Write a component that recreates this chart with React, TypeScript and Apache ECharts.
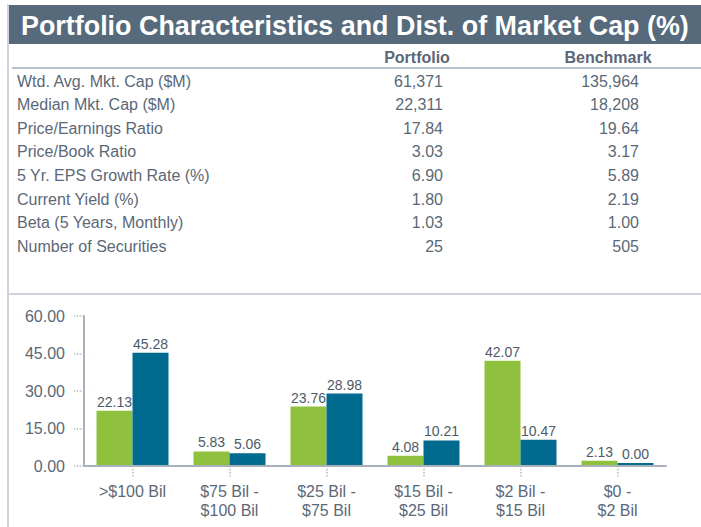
import React, { useEffect, useRef } from 'react';
import * as echarts from 'echarts';

const title = 'Portfolio Characteristics and Dist. of Market Cap (%)';
const columnHeaders = ['Portfolio', 'Benchmark'];
const statLabels = [
  'Wtd. Avg. Mkt. Cap ($M)',
  'Median Mkt. Cap ($M)',
  'Price/Earnings Ratio',
  'Price/Book Ratio',
  '5 Yr. EPS Growth Rate (%)',
  'Current Yield (%)',
  'Beta (5 Years, Monthly)',
  'Number of Securities',
];
const portfolioStats = ['61,371', '22,311', '17.84', '3.03', '6.90', '1.80', '1.03', '25'];
const benchmarkStats = ['135,964', '18,208', '19.64', '3.17', '5.89', '2.19', '1.00', '505'];

const categories = [
  '>$100 Bil',
  '$75 Bil -\n$100 Bil',
  '$25 Bil -\n$75 Bil',
  '$15 Bil -\n$25 Bil',
  '$2 Bil -\n$15 Bil',
  '$0 -\n$2 Bil',
];
const portfolioDist = [22.13, 5.83, 23.76, 4.08, 42.07, 2.13];
const benchmarkDist = [45.28, 5.06, 28.98, 10.21, 10.47, 0.0];
const yMin = 0;
const yMax = 60;
const yInterval = 15;

const FONT = '"Liberation Sans", Arial, sans-serif';
const TEXT = '#5b6877';
const GREEN = '#8fc13f';
const BLUE = '#006a8f';
const RULE = '#cfd4dc';

export default function App() {
  const ref = useRef<HTMLDivElement>(null);
  useEffect(() => {
    if (!ref.current) return;
    const chart = echarts.init(ref.current, undefined, { renderer: 'svg' });

    // measure title to compress it horizontally like a narrow font
    let titleScale = 0.8;
    try {
      const c = document.createElement('canvas').getContext('2d');
      if (c) {
        c.font = 'bold 28px "Liberation Sans"';
        const w = c.measureText(title).width;
        if (w > 0) titleScale = 668 / w;
      }
    } catch (e) {}

    const graphics: any[] = [
      { type: 'rect', shape: { x: 9, y: 5, width: 692, height: 39 }, style: { fill: '#566a7b' } },
      {
        type: 'text', x: 21, y: 25, scaleX: titleScale,
        style: { text: title, fill: '#ffffff', font: `bold 28px ${FONT}`, textVerticalAlign: 'middle', textAlign: 'left' },
      },
      { type: 'rect', shape: { x: 7, y: 4, width: 2, height: 523 }, style: { fill: RULE } },
      { type: 'rect', shape: { x: 12, y: 67, width: 689, height: 2 }, style: { fill: '#b9c1ca' } },
      { type: 'rect', shape: { x: 8, y: 293, width: 693, height: 2 }, style: { fill: RULE } },
      {
        type: 'text', x: 417, y: 57,
        style: { text: columnHeaders[0], fill: TEXT, font: `bold 16px ${FONT}`, textAlign: 'center', textVerticalAlign: 'middle' },
      },
      {
        type: 'text', x: 608, y: 57,
        style: { text: columnHeaders[1], fill: TEXT, font: `bold 16px ${FONT}`, textAlign: 'center', textVerticalAlign: 'middle' },
      },
    ];
    statLabels.forEach((lab, i) => {
      const y = 81 + i * 23.6;
      graphics.push({
        type: 'text', x: 17, y,
        style: { text: lab, fill: TEXT, font: `16px ${FONT}`, textAlign: 'left', textVerticalAlign: 'middle' },
      });
      graphics.push({
        type: 'text', x: 443, y,
        style: { text: portfolioStats[i], fill: TEXT, font: `16px ${FONT}`, textAlign: 'right', textVerticalAlign: 'middle' },
      });
      graphics.push({
        type: 'text', x: 639, y,
        style: { text: benchmarkStats[i], fill: TEXT, font: `16px ${FONT}`, textAlign: 'right', textVerticalAlign: 'middle' },
      });
    });

    const barLabel = {
      show: true,
      position: 'top',
      distance: 2,
      color: '#4d5a68',
      fontSize: 14,
      fontFamily: FONT,
      formatter: (p: any) => Number(p.value).toFixed(2),
    };

    chart.setOption({
      animation: false,
      backgroundColor: '#ffffff',
      graphic: graphics,
      grid: { left: 84, right: 35, top: 316, bottom: 61, containLabel: false },
      xAxis: {
        type: 'category',
        data: categories,
        z: 5,
        axisLine: { show: true, lineStyle: { color: '#a9b1bb', width: 2 } },
        axisTick: { show: true, alignWithLabel: true, length: 11, lineStyle: { color: '#b5bcc5', type: 'dotted', width: 1.5 } },
        axisLabel: { color: TEXT, fontSize: 16, fontFamily: FONT, margin: 16, lineHeight: 19, interval: 0 },
      },
      yAxis: {
        type: 'value',
        min: yMin,
        max: yMax,
        interval: yInterval,
        axisLine: { show: true, lineStyle: { color: '#a9b1bb', width: 2 } },
        axisTick: { show: true, length: 10, lineStyle: { color: '#b5bcc5', type: 'dotted', width: 1.5 } },
        splitLine: { show: false },
        axisLabel: { color: TEXT, fontSize: 16, fontFamily: FONT, margin: 19, formatter: (v: number) => v.toFixed(2) },
      },
      series: [
        {
          name: 'Portfolio', type: 'bar', data: portfolioDist, barWidth: 36, barGap: '0%',
          itemStyle: { color: GREEN }, label: barLabel,
        },
        {
          name: 'Benchmark', type: 'bar', data: benchmarkDist, barWidth: 36, barGap: '0%', barMinHeight: 3,
          itemStyle: { color: BLUE }, label: barLabel,
        },
      ],
    });
    return () => chart.dispose();
  }, []);
  return <div ref={ref} style={{ position: 'absolute', left: 0, top: 0, width: 701, height: 527 }} />;
}
